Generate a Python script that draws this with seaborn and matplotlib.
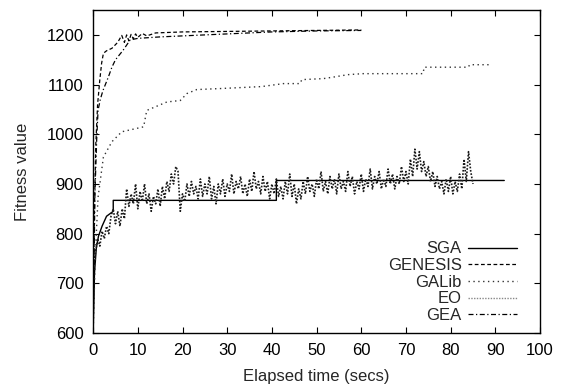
import numpy as np
import pandas as pd
import matplotlib
matplotlib.use("Agg")
import matplotlib.pyplot as plt
import seaborn as sns

# SGA (step curve)
sga_time = [0, 0.3, 0.7, 1.2, 2, 3, 4.5, 4.5, 41, 41, 92]
sga_fit = [600, 720, 770, 795, 815, 835, 845, 867, 867, 907, 907]

# GENESIS
genesis_time = [0, 0.3, 0.6, 1.0, 1.5, 1.9, 2.3, 3.0, 4.2, 5.5, 6.4, 7.0, 7.5, 8.0, 8.5, 9.0, 9.5,
                10.0, 11.0, 12.0, 14.0, 20, 30, 40, 50, 60]
genesis_fit = [600, 850, 980, 1060, 1110, 1143, 1163, 1168, 1173, 1185, 1199, 1185, 1200, 1188, 1201,
               1192, 1202, 1195, 1203, 1198, 1204, 1206, 1207, 1208, 1209, 1210]

# GALib
galib_time = [0, 0.5, 1.1, 2.3, 4.2, 6.4, 11.3, 12.0, 16.5, 19.5, 21.0, 23.2, 28.4, 37.7, 42.6,
              46.3, 46.7, 51.5, 53.7, 57.0, 60.4, 73.8, 74.1, 83.9, 84.3, 88.8]
galib_fit = [600, 760, 873, 954, 985, 1005, 1015, 1048, 1065, 1068, 1082, 1090, 1092, 1096, 1102,
             1102, 1110, 1112, 1115, 1120, 1122, 1122, 1135, 1135, 1140, 1140]

# EO (noisy), sampled every 0.5 s
eo_fit = [725, 760, 790, 775, 805, 790, 815, 800, 835, 850,
          820, 845, 815, 850, 830, 890, 855, 880, 860, 900,
          850, 885, 865, 900, 860, 880, 845, 875, 860, 890,
          855, 895, 870, 905, 885, 920, 900, 935, 925, 845,
          880, 865, 900, 875, 905, 880, 895, 870, 910, 875,
          900, 880, 915, 870, 895, 860, 900, 880, 910, 875,
          900, 885, 920, 880, 905, 890, 915, 880, 900, 875,
          910, 885, 925, 890, 905, 880, 915, 885, 905, 870,
          900, 880, 910, 875, 895, 870, 905, 880, 920, 875,
          900, 860, 890, 870, 905, 880, 915, 885, 900, 875,
          910, 890, 925, 885, 905, 880, 915, 890, 910, 880,
          920, 890, 905, 885, 925, 895, 915, 880, 905, 890,
          920, 885, 910, 895, 930, 890, 915, 900, 925, 890,
          910, 895, 930, 900, 920, 890, 915, 900, 935, 905,
          925, 900, 950, 915, 970, 930, 965, 925, 945, 915,
          935, 905, 925, 895, 915, 890, 905, 880, 910, 885,
          915, 880, 905, 885, 920, 890, 950, 905, 965, 925,
          900]
eo_time = np.arange(len(eo_fit)) * 0.5

# GEA
gea_time = [0, 0.4, 0.8, 1.1, 1.6, 2.2, 3.4, 4.2, 5.0, 6.7, 8.3, 10, 15, 20, 30, 40, 50, 60]
gea_fit = [600, 880, 990, 1048, 1070, 1088, 1115, 1135, 1150, 1169, 1190, 1193, 1196, 1198, 1202,
           1206, 1208, 1209]

sns.set_style("ticks")
plt.rcParams["font.family"] = ["Liberation Sans", "DejaVu Sans"]
plt.rcParams["font.size"] = 12

fig = plt.figure(figsize=(5.61, 3.87), dpi=100)
ax = fig.add_axes([0.166, 0.1395, 0.7966, 0.8345])

series = [
    ("SGA", sga_time, sga_fit, dict(color="black", linestyle="-", linewidth=1.0)),
    ("GENESIS", genesis_time, genesis_fit, dict(color="black", linestyle=(0, (3, 2)), linewidth=0.9)),
    ("GALib", galib_time, galib_fit, dict(color="#333333", linestyle=(0, (1, 2.5)), linewidth=1.0)),
    ("EO", eo_time, eo_fit, dict(color="#1a1a1a", linestyle=(0, (1, 1)), linewidth=1.2)),
    ("GEA", gea_time, gea_fit, dict(color="black", linestyle=(0, (4, 2, 1, 2)), linewidth=0.9)),
]

for name, t, v, style in series:
    df = pd.DataFrame({"time": t, "fitness": v})
    sns.lineplot(data=df, x="time", y="fitness", ax=ax, label=name,
                 estimator=None, sort=False, **style)

ax.set_xlim(0, 100)
ax.set_ylim(600, 1250)
ax.set_xticks(range(0, 101, 10))
ax.set_yticks(range(600, 1201, 100))
ax.tick_params(direction="in", length=4, width=0.8, top=True, right=True,
               labelsize=12, colors="black", pad=7)
for sp in ax.spines.values():
    sp.set_linewidth(1.0)
    sp.set_color("black")
ax.set_xlabel("Elapsed time (secs)", fontsize=12, labelpad=8)
ax.set_ylabel("Fitness value", fontsize=12, labelpad=12)

leg = ax.legend(loc="lower right", bbox_to_anchor=(0.963, 0.01), frameon=False,
                markerfirst=False, handlelength=2.9, handletextpad=0.4,
                labelspacing=0.1, borderaxespad=0, fontsize=12)
leg.legend_handles[3].set_color("#888888")
leg.legend_handles[3].set_linewidth(1.0)

fig.savefig("out.png", dpi=100)
